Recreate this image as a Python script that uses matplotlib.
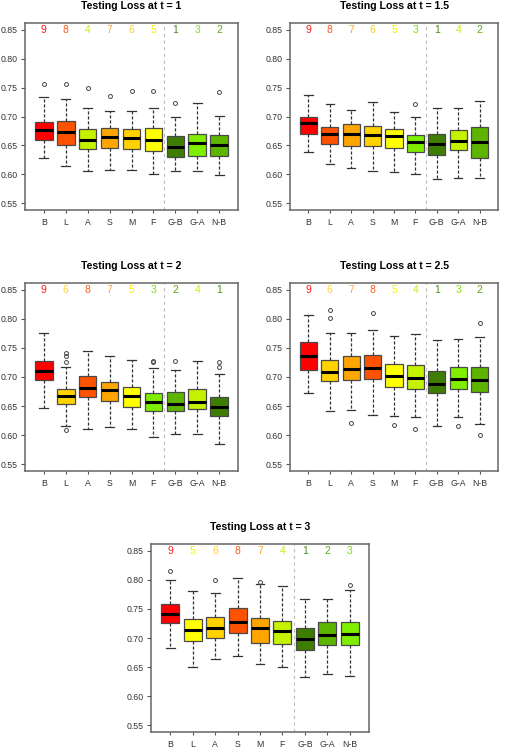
import matplotlib
matplotlib.use('Agg')
import matplotlib.pyplot as plt

plt.rcParams['font.family'] = ['Liberation Sans', 'DejaVu Sans']

methods = ['B', 'L', 'A', 'S', 'M', 'F', 'G-B', 'G-A', 'N-B']
times = ['1', '1.5', '2', '2.5', '3']

# box statistics, one row per panel (t = 1, 1.5, 2, 2.5, 3)
medians = [
    [0.676, 0.674, 0.660, 0.665, 0.662, 0.660, 0.647, 0.654, 0.650],
    [0.689, 0.670, 0.670, 0.668, 0.666, 0.656, 0.652, 0.658, 0.655],
    [0.711, 0.667, 0.681, 0.678, 0.667, 0.657, 0.654, 0.657, 0.649],
    [0.736, 0.709, 0.713, 0.716, 0.702, 0.699, 0.688, 0.697, 0.694],
    [0.741, 0.714, 0.718, 0.728, 0.718, 0.712, 0.699, 0.705, 0.707],
]
q1s = [
    [0.660, 0.651, 0.644, 0.646, 0.644, 0.640, 0.629, 0.631, 0.631],
    [0.669, 0.653, 0.649, 0.649, 0.645, 0.639, 0.633, 0.642, 0.628],
    [0.694, 0.653, 0.665, 0.659, 0.648, 0.642, 0.642, 0.644, 0.633],
    [0.712, 0.693, 0.695, 0.696, 0.683, 0.680, 0.672, 0.679, 0.675],
    [0.726, 0.694, 0.700, 0.709, 0.692, 0.689, 0.679, 0.688, 0.688],
]
q3s = [
    [0.691, 0.692, 0.678, 0.680, 0.679, 0.680, 0.666, 0.670, 0.668],
    [0.699, 0.681, 0.687, 0.683, 0.679, 0.668, 0.670, 0.676, 0.682],
    [0.728, 0.680, 0.702, 0.692, 0.682, 0.672, 0.674, 0.680, 0.666],
    [0.760, 0.730, 0.737, 0.738, 0.722, 0.721, 0.711, 0.717, 0.718],
    [0.758, 0.733, 0.736, 0.752, 0.734, 0.729, 0.717, 0.727, 0.728],
]
whis_lo = [
    [0.628, 0.615, 0.606, 0.608, 0.608, 0.601, 0.606, 0.606, 0.599],
    [0.639, 0.617, 0.611, 0.605, 0.604, 0.600, 0.591, 0.593, 0.593],
    [0.647, 0.616, 0.611, 0.613, 0.611, 0.597, 0.601, 0.602, 0.584],
    [0.672, 0.642, 0.643, 0.634, 0.633, 0.631, 0.616, 0.631, 0.619],
    [0.683, 0.650, 0.663, 0.669, 0.656, 0.650, 0.633, 0.638, 0.635],
]
whis_hi = [
    [0.734, 0.731, 0.715, 0.709, 0.710, 0.714, 0.700, 0.723, 0.701],
    [0.737, 0.721, 0.712, 0.725, 0.707, 0.699, 0.714, 0.714, 0.726],
    [0.775, 0.718, 0.744, 0.736, 0.729, 0.715, 0.712, 0.728, 0.706],
    [0.806, 0.775, 0.776, 0.781, 0.770, 0.774, 0.763, 0.766, 0.769],
    [0.800, 0.781, 0.777, 0.804, 0.793, 0.789, 0.768, 0.768, 0.783],
]
outliers = [
    [[0.757], [0.757], [0.749], [0.735], [0.745], [0.745], [0.723], [], [0.742]],
    [[], [], [], [], [], [0.722], [], [], []],
    [[], [0.741, 0.737, 0.725, 0.608], [], [], [], [0.728, 0.726], [0.728], [],
     [0.725, 0.717]],
    [[], [0.816, 0.801], [0.621], [0.810], [0.617], [0.611], [], [0.616],
     [0.793, 0.600]],
    [[0.815], [], [0.800], [], [0.797], [], [], [], [0.791]],
]
ranks = [
    [9, 8, 4, 7, 6, 5, 1, 3, 2],
    [9, 8, 7, 6, 5, 3, 1, 4, 2],
    [9, 6, 8, 7, 5, 3, 2, 4, 1],
    [9, 6, 7, 8, 5, 4, 1, 3, 2],
    [9, 5, 6, 8, 7, 4, 1, 2, 3],
]

rank_colors = {9: '#FF0000', 8: '#FF5200', 7: '#FFA500', 6: '#FFD200',
               5: '#FFFF00', 4: '#C4F200', 3: '#7FEE00', 2: '#5DB500',
               1: '#3E7D00'}
text_colors = {9: '#FF1A1A', 8: '#FF5A1A', 7: '#FFA52A', 6: '#FFD02A',
               5: '#F5F000', 4: '#C4EE10', 3: '#7FE010', 2: '#5DAA10',
               1: '#4A8A20'}

# axes boxes in figure fractions (left, bottom, width, height)
panel_pos = [
    [25 / 505, 1 - 210 / 750, 213 / 505, 187 / 750],
    [290 / 505, 1 - 210 / 750, 208 / 505, 187 / 750],
    [25 / 505, 1 - 471 / 750, 213 / 505, 188 / 750],
    [290 / 505, 1 - 471 / 750, 208 / 505, 188 / 750],
    [151 / 505, 1 - 732 / 750, 218 / 505, 188 / 750],
]

fig = plt.figure(figsize=(5.05, 7.5), dpi=100)

for i in range(len(times)):
    ax = fig.add_axes(panel_pos[i])
    stats = []
    for j in range(len(methods)):
        stats.append(dict(med=medians[i][j], q1=q1s[i][j], q3=q3s[i][j],
                          whislo=whis_lo[i][j], whishi=whis_hi[i][j],
                          fliers=outliers[i][j]))
    bp = ax.bxp(stats, positions=range(1, 10), widths=0.8, capwidths=0.4,
                patch_artist=True,
                boxprops=dict(edgecolor='#4a4a4a', linewidth=0.9),
                whiskerprops=dict(color='#333333', linestyle=(0, (2.5, 1.5)),
                                  linewidth=0.9),
                capprops=dict(color='#333333', linewidth=0.9),
                medianprops=dict(color='black', linewidth=2.2),
                flierprops=dict(marker='o', markersize=2.8,
                                markerfacecolor='none',
                                markeredgecolor='#444444',
                                markeredgewidth=0.7))
    for patch, r in zip(bp['boxes'], ranks[i]):
        patch.set_facecolor(rank_colors[r])

    ax.axvline(6.5, color='#BBBBBB', linestyle=(0, (3, 3)), linewidth=0.8,
               zorder=0)

    for j, r in enumerate(ranks[i]):
        ax.text(j + 1, 0.85, str(r), color=text_colors[r], fontsize=7.5,
                ha='center', va='center')

    ax.set_xlim(0.14, 9.86)
    ax.set_ylim(0.538, 0.862)
    ax.set_yticks([0.55, 0.60, 0.65, 0.70, 0.75, 0.80, 0.85])
    ax.set_yticklabels(['0.55', '0.60', '0.65', '0.70', '0.75', '0.80', '0.85'])
    ax.set_xticks(range(1, 10))
    ax.set_xticklabels(methods)
    for s in ax.spines.values():
        s.set_color('#666666')
        s.set_linewidth(1.1)
    ax.tick_params(axis='y', length=3, width=0.8, color='#555555',
                   labelsize=6.3, labelcolor='#333333', pad=2.5)
    ax.tick_params(axis='x', length=2.5, width=0.8, color='#555555',
                   labelsize=6.3, labelcolor='#333333', pad=3)

    ax.annotate('Testing Loss at t = ' + times[i], xy=(0.5, 1),
                xycoords='axes fraction', xytext=(0, 12.2),
                textcoords='offset points', ha='center', va='center',
                fontsize=7.6, fontweight='bold')

fig.savefig('out.png', dpi=100)
